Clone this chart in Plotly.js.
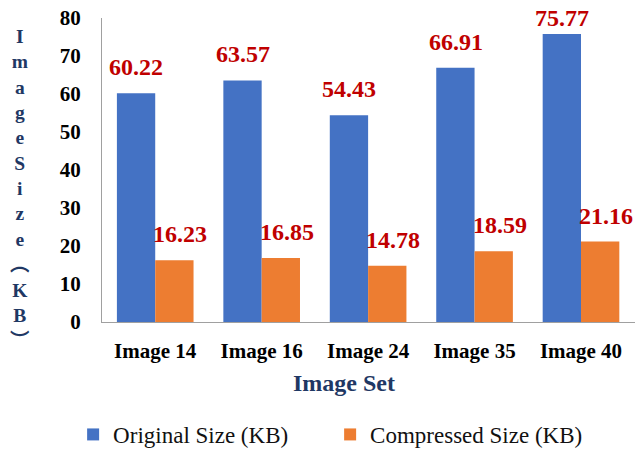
<!DOCTYPE html>
<html>
<head>
<meta charset="utf-8">
<script src="https://cdn.plot.ly/plotly-3.0.1.min.js"></script>
<style>html,body{margin:0;padding:0;background:#fff;}#chart{width:640px;height:450px;}</style>
</head>
<body>
<div id="chart"></div>
<script>
const categories = ["Image 14", "Image 16", "Image 24", "Image 35", "Image 40"];
const originalSize = [60.22, 63.57, 54.43, 66.91, 75.77];
const compressedSize = [16.23, 16.85, 14.78, 18.59, 21.16];
const seriesNames = ["Original Size (KB)", "Compressed Size (KB)"];
const yTitleChars = ["I","m","a","g","e","S","i","z","e","︵","K","B","︶"];

const serif = "Liberation Serif, Times New Roman, serif";
const navy = "#1F3864";
const red = "#C00000";

const M = {l: 102, r: 5, t: 18, b: 128, autoexpand: false};
const plotH = 450 - M.t - M.b;
const yMax = 80;

const traces = [
  {type: "bar", name: seriesNames[0], x: categories, y: originalSize,
   marker: {color: "#4472C4"}, hoverinfo: "none"},
  {type: "bar", name: seriesNames[1], x: categories, y: compressedSize,
   marker: {color: "#ED7D31"}, hoverinfo: "none"}
];

// label gap above bar, clamped so that the label stays inside the figure
function shiftFor(v) {
  const topPx = M.t + plotH * (1 - v / yMax);
  const wantBottom = topPx - 14;
  const bottom = Math.max(wantBottom, 30);
  return topPx - bottom;
}

const annotations = [];
categories.forEach((c, i) => {
  annotations.push({x: c, y: originalSize[i], xref: "x", yref: "y", text: originalSize[i].toFixed(2),
    showarrow: false, xanchor: "center", yanchor: "bottom", xshift: -19, yshift: shiftFor(originalSize[i]) - 3,
    font: {family: serif, size: 24, color: red, weight: "bold"}});
  annotations.push({x: c, y: compressedSize[i], xref: "x", yref: "y", text: compressedSize[i].toFixed(2),
    showarrow: false, xanchor: "center", yanchor: "bottom", xshift: 25, yshift: shiftFor(compressedSize[i]) - 3,
    font: {family: serif, size: 24, color: red, weight: "bold"}});
});
annotations.push({xref: "paper", yref: "paper", x: 0.454, y: 0, yshift: -61, yanchor: "middle",
  text: "Image Set", showarrow: false,
  font: {family: serif, size: 24, color: navy, weight: "bold"}});
annotations.push({xref: "paper", yref: "paper", x: 0, xshift: -82, y: 0.5, yshift: -18, xanchor: "center", yanchor: "middle",
  text: yTitleChars.join("<br>"), showarrow: false,
  font: {family: serif + ", Noto Sans CJK SC", size: 19.5, color: navy, weight: "bold"}});

const layout = {
  width: 640, height: 450,
  margin: M,
  paper_bgcolor: "#fff", plot_bgcolor: "#fff",
  barmode: "group", bargap: 0.28, bargroupgap: 0,
  showlegend: true,
  legend: {orientation: "h", x: 0.428, xanchor: "center", y: -0.37, yanchor: "middle", yref: "paper",
    entrywidth: 212, entrywidthmode: "pixels",
    font: {family: serif, size: 23, color: "#111"}},
  xaxis: {type: "category", showline: true, linecolor: "#A0A0A0", linewidth: 1,
    ticks: "", showgrid: false, zeroline: false,
    tickfont: {family: serif, size: 21, color: "#000", weight: "bold"}, ticklabelstandoff: 10},
  yaxis: {range: [0, yMax], dtick: 10, showline: true, linecolor: "#A0A0A0", linewidth: 1,
    ticks: "", showgrid: false, zeroline: false,
    tickfont: {family: serif, size: 21, color: "#000", weight: "bold"}, ticklabelstandoff: 16},
  annotations: annotations
};

Plotly.newPlot("chart", traces, layout, {displayModeBar: false, staticPlot: true});
</script>
</body>
</html>
